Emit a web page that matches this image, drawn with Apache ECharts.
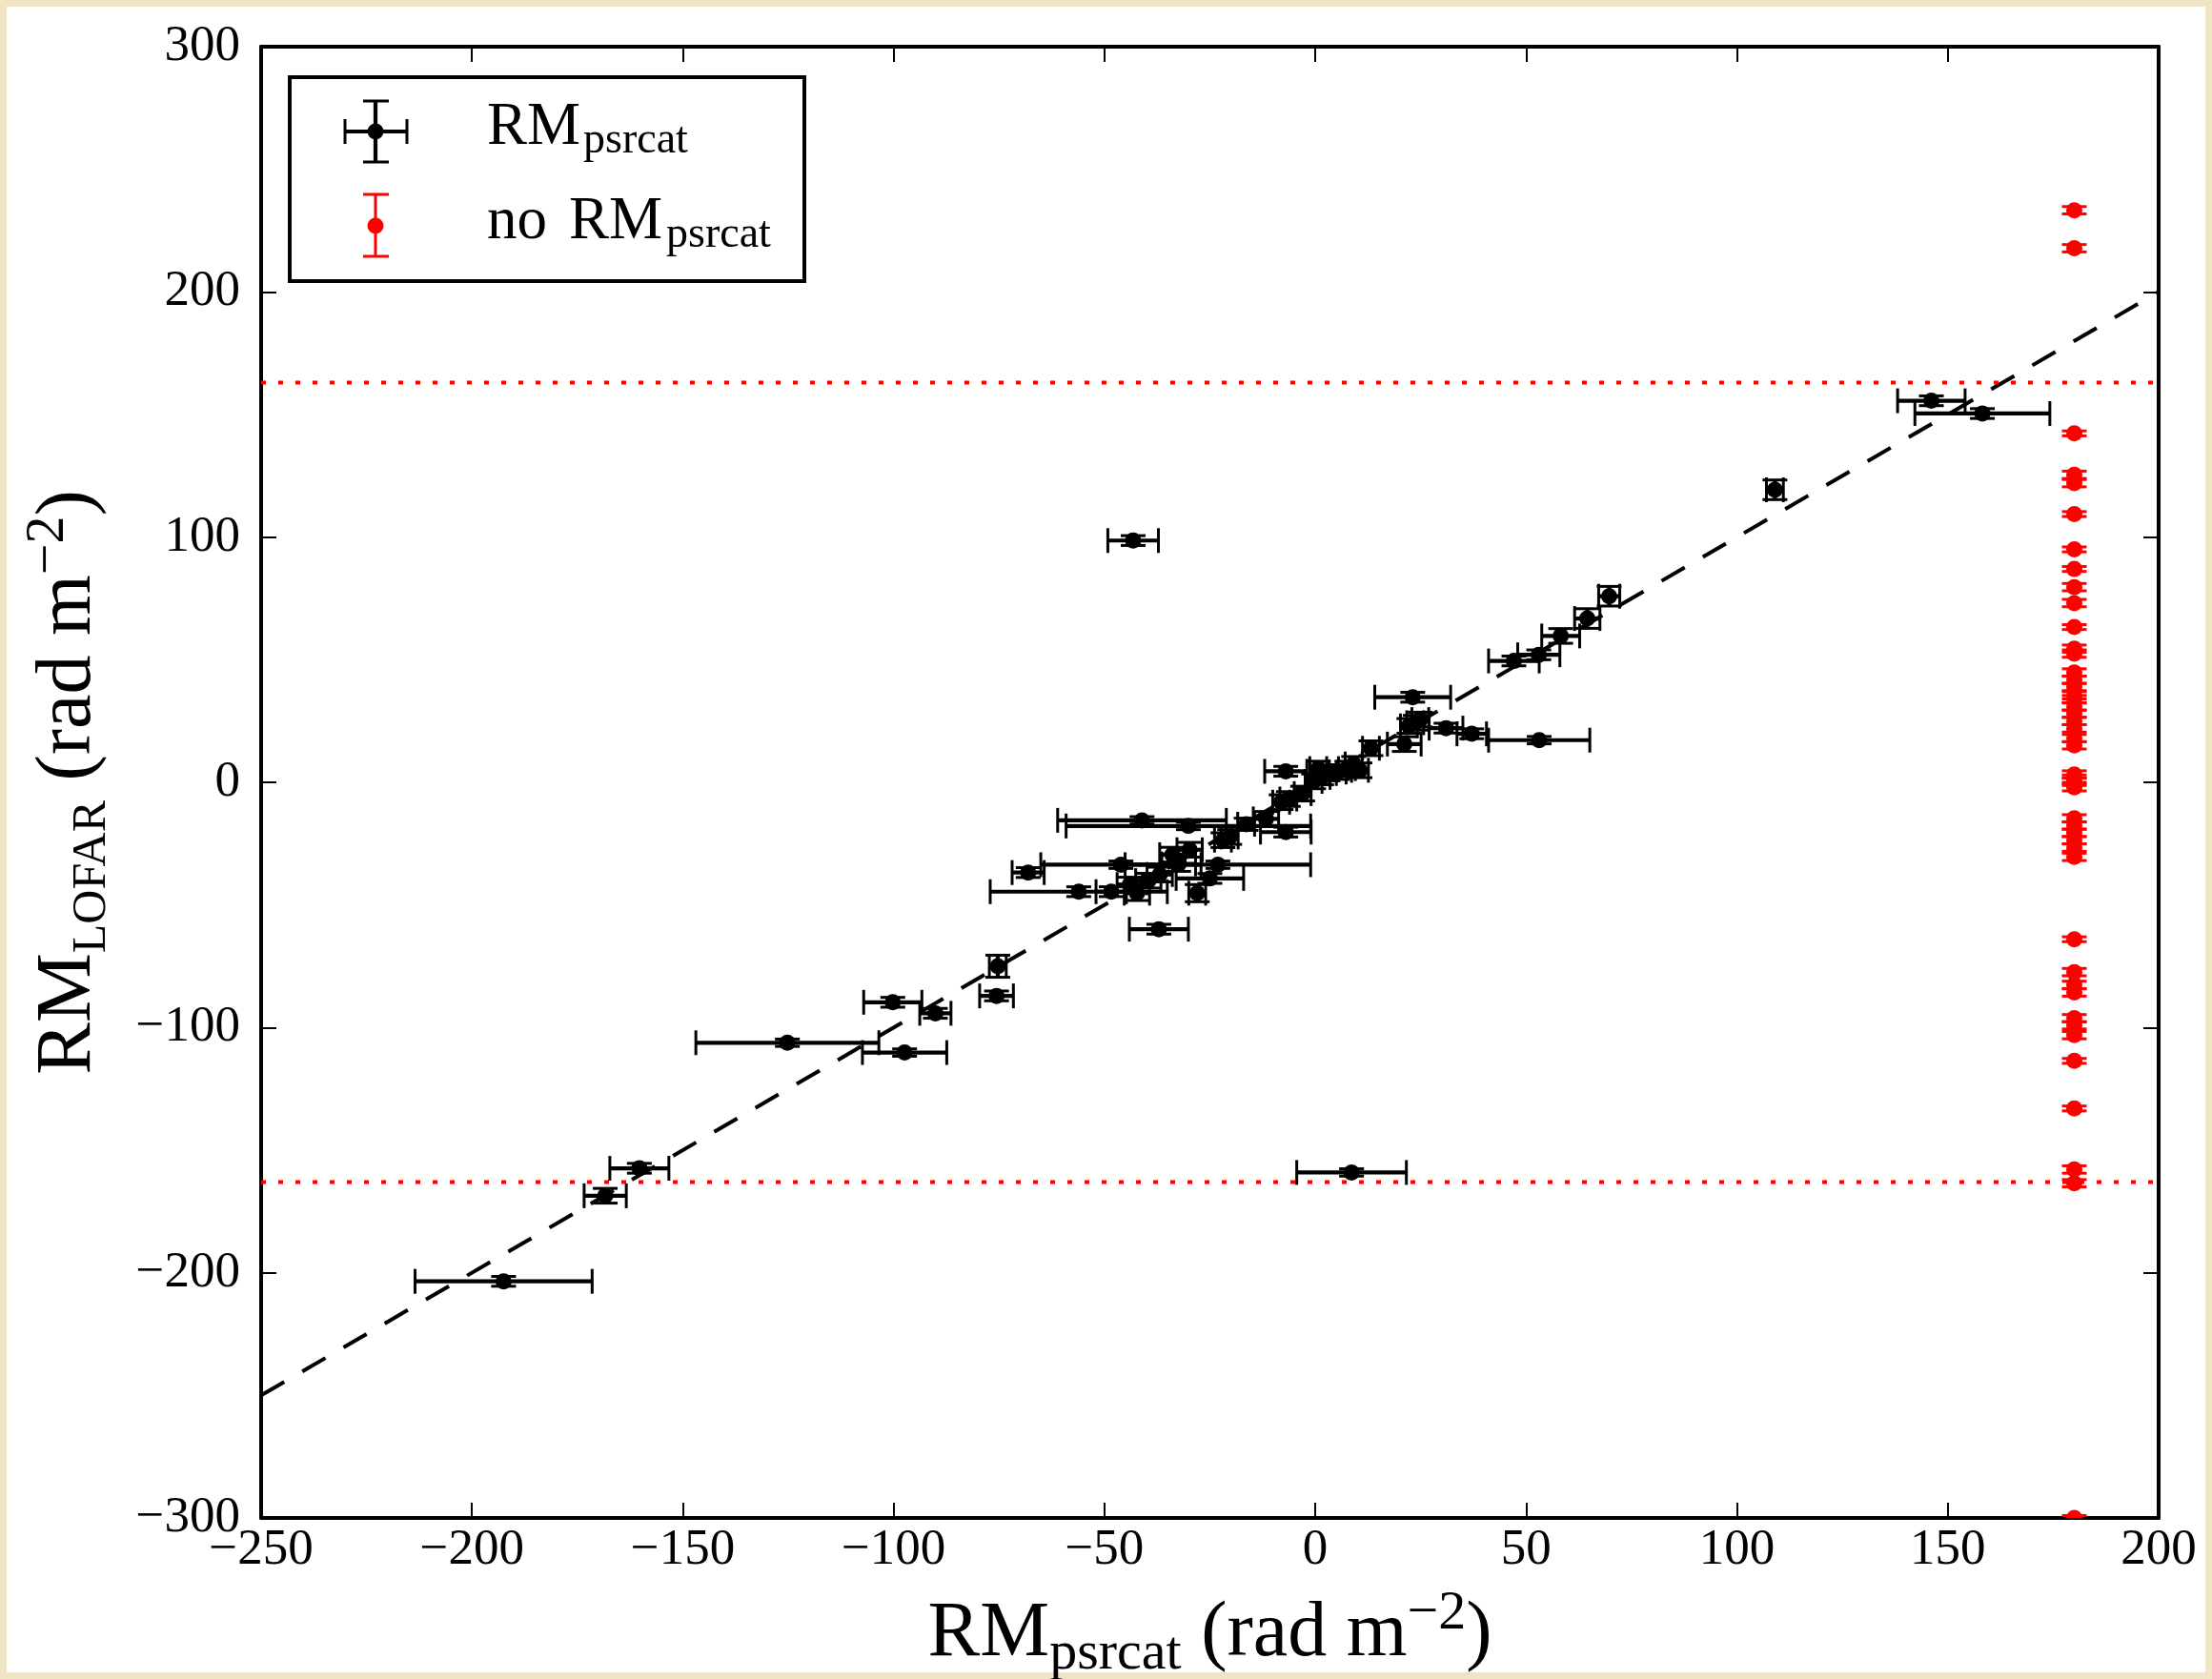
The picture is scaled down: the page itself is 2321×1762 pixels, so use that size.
<!DOCTYPE html>
<html>
<head>
<meta charset="utf-8">
<script src="https://cdn.jsdelivr.net/npm/echarts@6/dist/echarts.min.js"></script>
<style>
  html, body { margin: 0; padding: 0; background: #efe4c3; }
  #chart { width: 2321px; height: 1762px; background: #fff; box-shadow: inset 0 0 0 7px #efe4c3; }
</style>
</head>
<body>
<div id="chart"></div>
<script>
// pulsars with a catalogue RM: psrcat RM, its error, LOFAR RM, its error
const psrcatRM = [-192.5, -168.4, -160.3, -125.2, -97.4, -100.2, -90.1, -75.6, -75.3, -68.1,
  -56.1, -48.4, -46.1, -44.0, -42.3, -41.1, -39.6, -37.1, -36.9, -33.9,
  -32.4, -30.1, -29.8, -28.0, -25.0, -23.1, -21.9, -20.3, -16.4, -11.7,
  -8.1, -7.0, -7.0, -6.4, -3.0, -0.4, 0.7, 1.5, 3.0, 5.3,
  7.5, 9.1, 10.6, 8.6, 13.2, 21.1, 22.2, 23.7, 24.9, 23.1,
  31.0, 37.1, 53.1, 47.1, 53.0, 58.2, 64.5, 69.7, 109.0, 146.1,
  158.2, -43.2];
const psrcatErr = [21, 5, 7, 21.7, 10, 6.9, 3.7, 4, 2, 3.8,
  21, 3.6, 19, 3, 3, 20, 3, 7, 3, 3,
  4, 29, 3, 2, 8, 22, 2, 2, 2, 3,
  2, 6, 5, 2, 2, 2, 2, 2, 2, 2,
  2, 2, 2, 13, 2, 4, 2, 2, 2, 9,
  4, 3.5, 12, 6, 5, 4.5, 3, 2.5, 2, 8,
  16, 6];
const lofarRM = [-203.5, -168.6, -157.4, -106.2, -110.2, -89.7, -94.2, -87.1, -75.0, -36.8,
  -44.6, -44.6, -33.6, -41.7, -45.2, -15.5, -40.1, -59.9, -37.6, -29.5,
  -33.3, -17.8, -27.5, -45.2, -39.2, -33.6, -23.6, -22.3, -17.1, -14.9,
  -8.1, -20.3, 4.5, -6.8, -4.6, 0.4, 5.6, 2.0, 3.6, 4.2,
  5.6, 7.5, 4.9, -159.1, 13.9, 15.6, 23.0, 24.3, 25.6, 34.7,
  22.1, 19.8, 17.2, 49.5, 52.0, 59.7, 66.8, 75.9, 119.3, 155.6,
  150.4, 98.6];
const lofarErr = [2, 3, 2, 1.5, 1.5, 2, 2, 2, 4.5, 2,
  2, 2, 1.5, 3, 3, 1.5, 3, 2, 3, 3,
  3, 1.5, 3, 3.5, 2, 1.5, 3, 3, 2.5, 3,
  3, 2, 2, 3, 3, 3, 3, 3, 3, 3,
  3, 3, 3, 1.5, 3, 3, 3, 3, 3, 2,
  2, 2, 1.5, 2, 2, 3, 4, 4, 4, 2,
  2, 2];

// pulsars without a catalogue RM, plotted in a column at the right
const noCatX = 180;
const noCatRM = [233.3, 217.8, 142.3, 125.4, 122.0, 109.4, 95.0, 87.0, 79.6, 73.1,
  63.3, 54.5, 52.5, 44.8, 41.8, 38.9, 35.5, 33.9, 30.9, 28.0,
  25.0, 22.0, 18.0, 15.1, 3.2, 1.5, 0.2, -2.0, -14.7, -17.6,
  -20.6, -23.6, -26.6, -30.4, -64.0, -77.4, -82.6, -85.7, -96.2, -99.1,
  -103.1, -113.6, -133.0, -157.9, -163.5, -300.0];
const noCatErr = [1.5, 1.5, 1, 1.5, 1.5, 1, 1, 1, 1.5, 1.5,
  1, 1.5, 1.5, 1.5, 1.5, 1.5, 1.5, 1.5, 1.5, 1.5,
  1.5, 1.5, 1.5, 1.5, 1.5, 1.5, 1.5, 1.5, 1.5, 1.5,
  1.5, 1.5, 1.5, 1.5, 1, 1.5, 1.5, 1.5, 1.5, 1.5,
  1.5, 1, 1, 1.5, 1.5, 1];

// one-to-one line ends and the RM search limits
const oneToOne = [-250, 200];
const rmLimits = [163, -163];

const FONT = '"Liberation Serif", "DejaVu Serif", serif';
const minus = v => String(v).replace('-', '\u2212');
const DOT = 8.5;

const chart = echarts.init(document.getElementById('chart'));

function crossItem(params, api) {
  const x = api.value(0), y = api.value(1), ex = api.value(2), ey = api.value(3);
  const c = api.coord([x, y]);
  const l = api.coord([x - ex, y]), r = api.coord([x + ex, y]);
  const t = api.coord([x, y + ey]), b = api.coord([x, y - ey]);
  const cap = 13;
  const bar = { stroke: '#000', lineWidth: 4.2 };
  const capSt = { stroke: '#000', lineWidth: 3 };
  return {
    type: 'group',
    children: [
      { type: 'line', shape: { x1: l[0], y1: l[1], x2: r[0], y2: r[1] }, style: bar },
      { type: 'line', shape: { x1: t[0], y1: t[1], x2: b[0], y2: b[1] }, style: bar },
      { type: 'line', shape: { x1: l[0], y1: l[1] - cap, x2: l[0], y2: l[1] + cap }, style: capSt },
      { type: 'line', shape: { x1: r[0], y1: r[1] - cap, x2: r[0], y2: r[1] + cap }, style: capSt },
      { type: 'line', shape: { x1: t[0] - cap, y1: t[1], x2: t[0] + cap, y2: t[1] }, style: capSt },
      { type: 'line', shape: { x1: b[0] - cap, y1: b[1], x2: b[0] + cap, y2: b[1] }, style: capSt },
      { type: 'circle', shape: { cx: c[0], cy: c[1], r: DOT }, style: { fill: '#000' } }
    ]
  };
}

function redItem(params, api) {
  const x = api.value(0), y = api.value(1), ey = api.value(2);
  const c = api.coord([x, y]);
  const t = api.coord([x, y + ey]), b = api.coord([x, y - ey]);
  const cap = 13;
  const st = { stroke: '#ff0000', lineWidth: 3 };
  return {
    type: 'group',
    children: [
      { type: 'line', shape: { x1: t[0], y1: t[1], x2: b[0], y2: b[1] }, style: st },
      { type: 'line', shape: { x1: t[0] - cap, y1: t[1], x2: t[0] + cap, y2: t[1] }, style: st },
      { type: 'line', shape: { x1: b[0] - cap, y1: b[1], x2: b[0] + cap, y2: b[1] }, style: st },
      { type: 'circle', shape: { cx: c[0], cy: c[1], r: DOT }, style: { fill: '#ff0000' } }
    ]
  };
}

const catData = psrcatRM.map((v, i) => [v, lofarRM[i], psrcatErr[i], lofarErr[i]]);
const noCatData = noCatRM.map((v, i) => [noCatX, v, noCatErr[i]]);

const axisLine = { show: true, onZero: false, lineStyle: { color: '#000', width: 4 } };
const axisTick = { show: true, inside: true, length: 16, lineStyle: { color: '#000', width: 2 } };
const tickFont = { fontFamily: FONT, fontSize: 53, color: '#000' };
const titleRich = {
  a: { fontFamily: FONT, fontSize: 82, lineHeight: 100, verticalAlign: 'middle', color: '#000' },
  s: { fontFamily: FONT, fontSize: 58, lineHeight: 58, verticalAlign: 'bottom', color: '#000' },
  c: { fontFamily: FONT, fontSize: 50, lineHeight: 56, verticalAlign: 'bottom', color: '#000' },
  u: { fontFamily: FONT, fontSize: 58, lineHeight: 58, verticalAlign: 'top', color: '#000' }
};

const option = {
  animation: false,
  grid: { left: 274, right: 56, top: 49, bottom: 169, containLabel: false, outerBoundsMode: 'none' },
  xAxis: [{
    type: 'value', min: -250, max: 200, interval: 50, position: 'bottom',
    axisLine, axisTick, splitLine: { show: false },
    axisLabel: { ...tickFont, margin: 8, showMinLabel: true, showMaxLabel: true, formatter: minus },
    name: '{a|RM}{s|psrcat}{a| (rad m}{u|\u22122}{a|)}',
    nameLocation: 'middle', nameGap: 72,
    nameTextStyle: { rich: titleRich }
  }, {
    type: 'value', min: -250, max: 200, interval: 50, position: 'top',
    axisLine, axisTick, splitLine: { show: false }, axisLabel: { show: false }
  }],
  yAxis: [{
    type: 'value', min: -300, max: 300, interval: 100, position: 'left',
    axisLine, axisTick, splitLine: { show: false },
    axisLabel: { ...tickFont, margin: 22, showMinLabel: true, showMaxLabel: true, formatter: minus },
    name: '{a|RM}{c|LOFAR}{a| (rad m}{u|\u22122}{a|)}',
    nameLocation: 'middle', nameGap: 152,
    nameTextStyle: { rich: titleRich }
  }, {
    type: 'value', min: -300, max: 300, interval: 100, position: 'right',
    axisLine, axisTick, splitLine: { show: false }, axisLabel: { show: false }
  }],
  series: [
    {
      type: 'line', silent: true, symbol: 'none', z: 1,
      data: oneToOne.map(v => [v, v]),
      lineStyle: { color: '#000', width: 4, type: [28, 22] }
    },
    ...rmLimits.map(v => ({
      type: 'line', silent: true, symbol: 'none', z: 1,
      data: [[oneToOne[0], v], [oneToOne[1], v]],
      lineStyle: { color: '#ff0000', width: 4, type: [5, 13] }
    })),
    {
      type: 'custom', name: 'RM psrcat', clip: true, z: 3,
      renderItem: crossItem, encode: { x: 0, y: 1 }, data: catData
    },
    {
      type: 'custom', name: 'no RM psrcat', clip: true, z: 3,
      renderItem: redItem, encode: { x: 0, y: 1 }, data: noCatData
    }
  ],
  graphic: [
    { type: 'rect', z: 100, shape: { x: 304, y: 81, width: 540, height: 214 },
      style: { fill: '#fff', stroke: '#000', lineWidth: 4 } },
    // black legend marker
    { type: 'line', z: 101, shape: { x1: 362, y1: 138, x2: 427, y2: 138 }, style: { stroke: '#000', lineWidth: 4.2 } },
    { type: 'line', z: 101, shape: { x1: 394, y1: 106, x2: 394, y2: 170 }, style: { stroke: '#000', lineWidth: 4.2 } },
    { type: 'line', z: 101, shape: { x1: 362, y1: 125, x2: 362, y2: 151 }, style: { stroke: '#000', lineWidth: 3 } },
    { type: 'line', z: 101, shape: { x1: 427, y1: 125, x2: 427, y2: 151 }, style: { stroke: '#000', lineWidth: 3 } },
    { type: 'line', z: 101, shape: { x1: 381, y1: 106, x2: 408, y2: 106 }, style: { stroke: '#000', lineWidth: 3 } },
    { type: 'line', z: 101, shape: { x1: 381, y1: 170, x2: 408, y2: 170 }, style: { stroke: '#000', lineWidth: 3 } },
    { type: 'circle', z: 101, shape: { cx: 394, cy: 138, r: DOT }, style: { fill: '#000' } },
    // red legend marker
    { type: 'line', z: 101, shape: { x1: 394, y1: 204, x2: 394, y2: 269 }, style: { stroke: '#ff0000', lineWidth: 3 } },
    { type: 'line', z: 101, shape: { x1: 381, y1: 204, x2: 408, y2: 204 }, style: { stroke: '#ff0000', lineWidth: 3 } },
    { type: 'line', z: 101, shape: { x1: 381, y1: 269, x2: 408, y2: 269 }, style: { stroke: '#ff0000', lineWidth: 3 } },
    { type: 'circle', z: 101, shape: { cx: 394, cy: 237, r: DOT }, style: { fill: '#ff0000' } },
    // legend labels
    { type: 'text', z: 101, x: 511, y: 134, style: { text: 'RM', font: '63px ' + FONT, fill: '#000', verticalAlign: 'middle' } },
    { type: 'text', z: 101, x: 612, y: 148, style: { text: 'psrcat', font: '46px ' + FONT, fill: '#000', verticalAlign: 'middle' } },
    { type: 'text', z: 101, x: 511, y: 233, style: { text: 'no', font: '63px ' + FONT, fill: '#000', verticalAlign: 'middle' } },
    { type: 'text', z: 101, x: 597, y: 233, style: { text: 'RM', font: '63px ' + FONT, fill: '#000', verticalAlign: 'middle' } },
    { type: 'text', z: 101, x: 699, y: 247, style: { text: 'psrcat', font: '46px ' + FONT, fill: '#000', verticalAlign: 'middle' } }
  ]
};

chart.setOption(option);
</script>
</body>
</html>
